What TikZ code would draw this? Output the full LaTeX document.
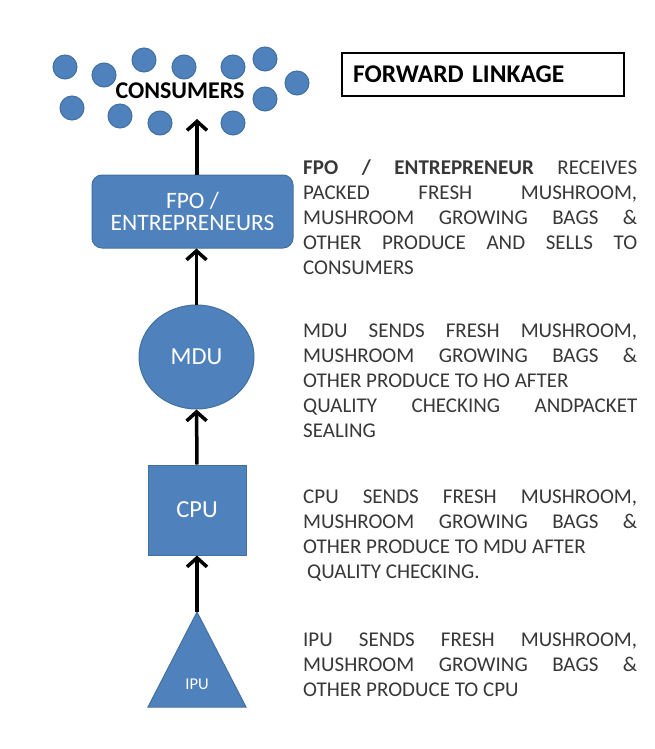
\documentclass[tikz,border=0pt]{standalone}
\usepackage{fontspec}
\setmainfont{Carlito}
\usetikzlibrary{arrows.meta,shapes.geometric}
\definecolor{azul}{HTML}{4F81BD}
\definecolor{borde}{HTML}{41719C}
\definecolor{texto}{HTML}{383838}
\setlength{\parindent}{0pt}

\begin{document}
\begin{tikzpicture}[x=1pt,y=-1pt,
			 consumidor/.style={circle, fill=azul, draw=borde, line width=1pt, minimum size=24pt, inner sep=0pt},
			 bloque/.style={fill=azul, draw=borde, line width=1pt, text=white, inner sep=0pt},
			 flecha/.style={line width=3.5pt, -{Straight Barb[length=9pt,width=20pt]}},
			 parrafo/.style={anchor=base west, text width=334pt, align=justify, inner sep=0pt, text=texto, font=\fontsize{21}{25}\selectfont}
  		]
	\useasboundingbox[fill=white] (0,0) rectangle (655,749);

	%Consumers
		\node[consumidor] (c1) at (65,67) {};
		\node[consumidor] (c2) at (104,75) {};
		\node[consumidor] (c3) at (144,60) {};
		\node[consumidor] (c4) at (184,67) {};
		\node[consumidor] (c5) at (233,67) {};
		\node[consumidor] (c6) at (265,59) {};
		\node[consumidor] (c7) at (297,83) {};
		\node[consumidor] (c8) at (265,99) {};
		\node[consumidor] (c9) at (72,108) {};
		\node[consumidor] (c10) at (120,116) {};
		\node[consumidor] (c11) at (160,123) {};
		\node[consumidor] (c12) at (233,123) {};
		\node[inner sep=0pt, font=\bfseries\fontsize{24}{24}\selectfont] (consumers) at (180,91) {CONSUMERS};
	%Title
		\node[draw=black, line width=1.8pt, minimum width=282pt, minimum height=43pt, text width=260pt, align=left, font=\bfseries\fontsize{25.5}{25.5}\selectfont] (titulo) at (483,74.5) {FORWARD LINKAGE};
	%Units
		\node[bloque, rounded corners=10pt, minimum width=201pt, minimum height=73pt, align=center, font=\fontsize{23.5}{22}\selectfont] (fpo) at (192.5,211.5) {FPO /\\ENTREPRENEURS};
		\node[bloque, ellipse, minimum width=115pt, minimum height=104pt, font=\fontsize{24.5}{24.5}\selectfont] (mdu) at (196.5,357) {MDU};
		\node[bloque, minimum width=98pt, minimum height=90pt, font=\fontsize{24.5}{24.5}\selectfont] (cpu) at (197,510) {CPU};
		\coordinate (ipu-punta) at (197,612);
		\filldraw[fill=azul, draw=borde, line width=1pt] (ipu-punta) -- (246,707) -- (148,707) -- cycle;
		\node[text=white, inner sep=0pt, font=\fontsize{16.5}{16.5}\selectfont] (ipu) at (197,684) {IPU};
	%Arrows
		\coordinate (cons) at (197,119);
		\draw[flecha] (cons |- fpo.north) -- (cons);
		\draw[flecha] (mdu.north) -- (mdu.north |- fpo.south);
		\draw[flecha] (cpu.north) -- (mdu.south);
		\draw[flecha] (ipu-punta) -- (cpu.south);
	%Descriptions
		\node[parrafo] (t-fpo) at (303,174) {\textbf{FPO / ENTREPRENEUR} RECEIVES\linebreak PACKED FRESH MUSHROOM,\linebreak MUSHROOM GROWING BAGS \&\linebreak OTHER PRODUCE AND SELLS TO\linebreak CONSUMERS};
		\node[parrafo] (t-mdu) at (303,337) {MDU SENDS FRESH MUSHROOM,\linebreak MUSHROOM GROWING BAGS \&\linebreak OTHER PRODUCE TO HO AFTER\newline QUALITY CHECKING ANDPACKET\linebreak SEALING};
		\node[parrafo] (t-cpu) at (303,503) {CPU SENDS FRESH MUSHROOM,\linebreak MUSHROOM GROWING BAGS \&\linebreak OTHER PRODUCE TO MDU AFTER\newline\hspace*{4pt}QUALITY CHECKING.};
		\node[parrafo] (t-ipu) at (303,646) {IPU SENDS FRESH MUSHROOM,\linebreak MUSHROOM GROWING BAGS \&\linebreak OTHER PRODUCE TO CPU};
	\end{tikzpicture}
\end{document}
